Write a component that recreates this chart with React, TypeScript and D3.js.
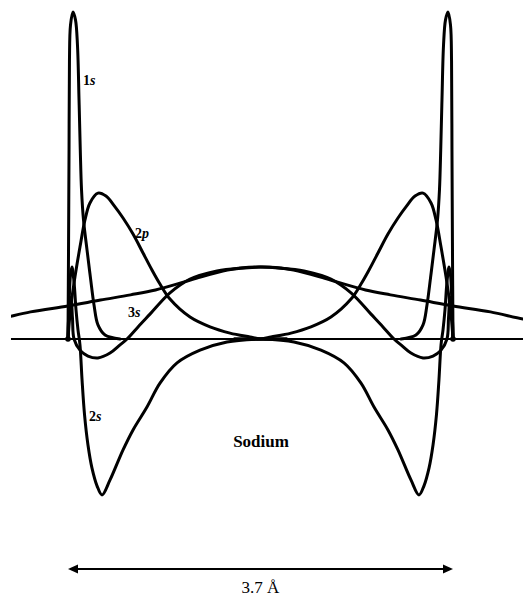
import React from 'react';
import * as d3 from 'd3';

// Internuclear separation of the two sodium atoms (Å)
const SEPARATION = 3.7;

// Radial functions of one atom, as [distance from nucleus (Å), amplitude]
const orbital1s: [number, number][] = [
  [0, 0], [0.005, 27], [0.01, 58], [0.014, 85], [0.024, 96], [0.048, 100],
  [0.072, 97.6], [0.091, 89.9], [0.106, 73.1], [0.118, 57.8], [0.13, 45.6],
  [0.149, 36.4], [0.183, 27.2], [0.216, 18.7], [0.25, 10.4], [0.288, 4.3],
  [0.356, 1.2], [0.5, 0],
];

const orbital2s: [number, number][] = [
  [0, 0], [0.01, 10.4], [0.024, 19.6], [0.038, 22], [0.058, 17.4], [0.077, 8.9],
  [0.096, 2.8], [0.115, -1.8], [0.135, -12.5], [0.159, -23.2], [0.192, -32.4],
  [0.23, -39.4], [0.279, -44.9], [0.327, -47.7], [0.404, -43.1], [0.529, -33.9],
  [0.625, -27.8], [0.759, -20.8], [0.884, -13.5], [1.048, -7.3], [1.269, -3.4],
  [1.528, -0.9], [1.85, 0], [2.1, 0],
];

const orbital2p: [number, number][] = [
  [0, 0], [0.014, 5.8], [0.029, 10.4], [0.067, 19], [0.115, 28.1], [0.163, 36.4],
  [0.211, 41.6], [0.288, 44.6], [0.365, 43.7], [0.452, 40.4], [0.529, 37],
  [0.625, 32.1], [0.721, 26.3], [0.807, 21.1], [0.884, 16.8], [0.98, 12.2],
  [1.173, 6.7], [1.365, 3.7], [1.557, 1.8], [1.749, 0.6], [1.85, 0], [2.1, 0],
];

const orbital3s: [number, number][] = [
  [0, 0], [0.014, 10.4], [0.029, 12.8], [0.043, 6.4], [0.058, 0], [0.115, -3.4],
  [0.192, -5.2], [0.288, -5.8], [0.404, -4.3], [0.5, -1.8], [0.567, 0],
  [0.673, 3.7], [0.788, 7.6], [0.98, 14.1], [1.173, 18.3], [1.432, 20.8],
  [1.653, 21.7], [1.85, 22], [2.167, 21.1], [2.523, 18], [2.859, 15],
  [3.099, 13.5], [3.388, 11.9], [3.7, 10.1], [4.06, 8.3], [4.373, 6.1],
  [4.5, 5.6],
];

const orbitals = [orbital1s, orbital2s, orbital2p, orbital3s];

// Extent of the internuclear axis line (Å from the left nucleus)
const AXIS_EXTENT: [number, number] = [-0.548, 4.373];

const W = 523;
const H = 596;

const x = d3.scaleLinear().domain([0, SEPARATION]).range([68, 453]);
const y = d3.scaleLinear().domain([0, 100]).range([339, 12]);

const curve = d3.curveCatmullRom.alpha(0.5);
const leftLine = d3
  .line<[number, number]>()
  .x((d) => x(d[0]))
  .y((d) => y(d[1]))
  .curve(curve);
const rightLine = d3
  .line<[number, number]>()
  .x((d) => x(SEPARATION - d[0]))
  .y((d) => y(d[1]))
  .curve(curve);

const labelFont = '"Liberation Serif", "Times New Roman", serif';

function OrbitalLabel({ px, py, n, l }: { px: number; py: number; n: string; l: string }) {
  return (
    <text x={px} y={py} fontFamily={labelFont} fontWeight="bold" fontSize={14} fill="#000">
      {n}
      <tspan fontStyle="italic">{l}</tspan>
    </text>
  );
}

export default function App() {
  const arrowY = 569;
  const x0 = x(0);
  const x1 = x(SEPARATION);
  const head = 10;
  const half = 4.5;
  const axisLeft = x(AXIS_EXTENT[0]);
  const axisRight = x(AXIS_EXTENT[1]);
  return (
    <svg
      width={W}
      height={H}
      viewBox={`0 0 ${W} ${H}`}
      style={{ position: 'absolute', left: 0, top: 0, background: '#fff' }}
    >
      <defs>
        <clipPath id="axis-span">
          <rect x={axisLeft} y={0} width={axisRight - axisLeft} height={H} />
        </clipPath>
      </defs>
      <rect width={W} height={H} fill="#fff" />
      {/* internuclear axis */}
      <line x1={axisLeft} x2={axisRight} y1={y(0)} y2={y(0)} stroke="#000" strokeWidth={2} />
      {/* radial functions of both atoms */}
      <g
        clipPath="url(#axis-span)"
        fill="none"
        stroke="#000"
        strokeWidth={3}
        strokeLinejoin="round"
        strokeLinecap="round"
      >
        {orbitals.map((o, i) => (
          <path key={`l${i}`} d={leftLine(o) ?? ''} />
        ))}
        {orbitals.map((o, i) => (
          <path key={`r${i}`} d={rightLine(o) ?? ''} />
        ))}
      </g>
      {/* nuclei */}
      <circle cx={x(0)} cy={y(0)} r={2.8} fill="#000" />
      <circle cx={x(SEPARATION)} cy={y(0)} r={2.8} fill="#000" />

      <OrbitalLabel px={83} py={85} n="1" l="s" />
      <OrbitalLabel px={135} py={238} n="2" l="p" />
      <OrbitalLabel px={128} py={317} n="3" l="s" />
      <OrbitalLabel px={89} py={421} n="2" l="s" />
      <text
        x={261}
        y={447}
        textAnchor="middle"
        fontFamily={labelFont}
        fontWeight="bold"
        fontSize={17}
        fill="#000"
      >
        Sodium
      </text>

      {/* separation arrow */}
      <line x1={x0 + head - 1} x2={x1 - head + 1} y1={arrowY} y2={arrowY} stroke="#000" strokeWidth={2} />
      <path d={`M${x0},${arrowY}L${x0 + head},${arrowY - half}L${x0 + head},${arrowY + half}Z`} fill="#000" />
      <path d={`M${x1},${arrowY}L${x1 - head},${arrowY - half}L${x1 - head},${arrowY + half}Z`} fill="#000" />
      <text
        x={(x0 + x1) / 2}
        y={593}
        textAnchor="middle"
        fontFamily={labelFont}
        fontSize={17}
        fill="#000"
      >
        3.7 Å
      </text>
    </svg>
  );
}
